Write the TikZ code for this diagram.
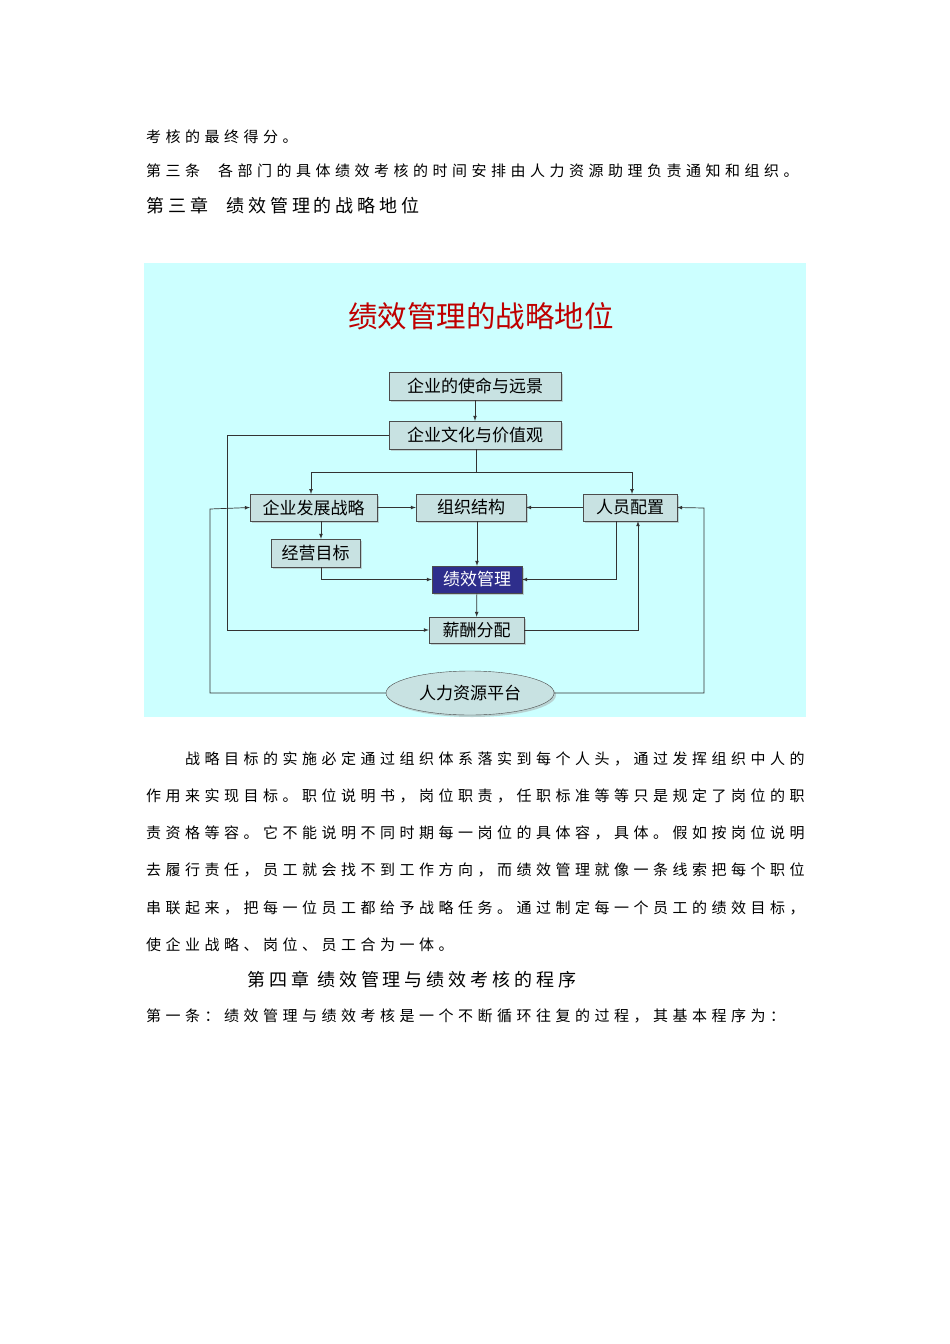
\documentclass[tikz,border=0pt]{standalone}
\usepackage{fontspec}
\usetikzlibrary{shapes.geometric,shadows}
\newfontfamily\cjk[LetterSpace=30]{Noto Sans CJK SC}
\newfontfamily\cjkh[LetterSpace=22]{Noto Sans CJK SC}
\newfontfamily\cjkd{Noto Sans CJK SC}
\definecolor{bgc}{HTML}{CCFFFF}
\definecolor{boxc}{HTML}{C8E2E2}
\definecolor{navy}{HTML}{2E2E8C}
\tikzset{
 txt/.style={anchor=west,inner sep=0pt,font=\cjk\fontsize{15}{15}\selectfont},
 head/.style={anchor=west,inner sep=0pt,font=\cjkh\fontsize{18}{18}\selectfont},
 bx/.style={draw=black!70,fill=boxc,rectangle,inner sep=0pt,font=\cjkd\fontsize{17}{17}\selectfont,drop shadow={shadow xshift=2pt,shadow yshift=-2pt,fill=gray!70}},
 ln/.style={draw=black!80,line width=0.7pt},
 ar/.style={ln,-latex}
}
\begin{document}
\begin{tikzpicture}[x=1pt,y=-1pt]
\useasboundingbox (0,0) rectangle (950,1344);
\fill[white] (0,0) rectangle (950,1344);
\node[txt] (t1) at (146,137) {考核的最终得分。};
\node[txt] (t2) at (146,171) {第三条\hspace{18pt}各部门的具体绩效考核的时间安排由人力资源助理负责通知和组织。};
\node[head] (t3) at (146,206) {第三章\hspace{18pt}绩效管理的战略地位};
% diagram
\fill[bgc] (144,263) rectangle (806,717);
\node[font=\cjkd\fontsize{29.5}{29.5}\selectfont,text=red!75!black] (title) at (481,316) {绩效管理的战略地位};
\node[bx,minimum width=172pt,minimum height=28pt] (a) at (475,386) {企业的使命与远景};
\node[bx,minimum width=172pt,minimum height=28pt] (b) at (475,435) {企业文化与价值观};
\node[bx,minimum width=127pt,minimum height=27pt] (c) at (313.5,507.5) {企业发展战略};
\node[bx,minimum width=110pt,minimum height=27pt] (d) at (471,507.5) {组织结构};
\node[bx,minimum width=94pt,minimum height=27pt] (e) at (630,507.5) {人员配置};
\node[bx,minimum width=89pt,minimum height=28pt] (f) at (315.5,553) {经营目标};
\node[bx,fill=navy,text=white,minimum width=90pt,minimum height=27pt] (g) at (477,579.5) {绩效管理};
\node[bx,minimum width=95pt,minimum height=26pt] (h) at (476.5,630) {薪酬分配};
\node[bx,ellipse,draw=black!70,minimum width=168pt,minimum height=44pt] (i) at (470,693) {人力资源平台};
\coordinate (j) at (476,472);
\draw[ar] (a) -- (b);
\draw[ln] (b.south -| j) -- (j);
\draw[ar] (j) -| (311,494);
\draw[ar] (j) -| (632,494);
\draw[ar] (b.west) -- ++(-161,0) |- (h.west);
\draw[ar] (c) -- (d);
\draw[ar] (e) -- (d);
\draw[ar] (321,521) -- (f.north -| 321,0);
\draw[ar] (f.south -| 321,0) |- (g.west);
\draw[ar] (d.south -| g.north) -- (g.north);
\draw[ar] (e.south -| 616,0) |- (g.east);
\draw[ar] (g) -- (h);
\draw[ar] (h.east) -| (e.south -| 638,0);
\draw[ar] (i.west) -| (210,509) -- (c.west);
\draw[ar] (i.east) -| (704,508) -- (e.east);
% paragraph
\node[txt] (p1) at (185,759) {战略目标的实施必定通过组织体系落实到每个人头，通过发挥组织中人的};
\node[txt] (p2) at (146,796) {作用来实现目标。职位说明书，岗位职责，任职标准等等只是规定了岗位的职};
\node[txt] (p3) at (146,833) {责资格等容。它不能说明不同时期每一岗位的具体容，具体。假如按岗位说明};
\node[txt] (p4) at (146,870) {去履行责任，员工就会找不到工作方向，而绩效管理就像一条线索把每个职位};
\node[txt] (p5) at (146,908) {串联起来，把每一位员工都给予战略任务。通过制定每一个员工的绩效目标，};
\node[txt] (p6) at (146,945) {使企业战略、岗位、员工合为一体。};
\node[head] (p7) at (247,980) {第四章\hspace{8pt}绩效管理与绩效考核的程序};
\node[txt] (p8) at (146,1016) {第一条：绩效管理与绩效考核是一个不断循环往复的过程，其基本程序为：};
\end{tikzpicture}
\end{document}
